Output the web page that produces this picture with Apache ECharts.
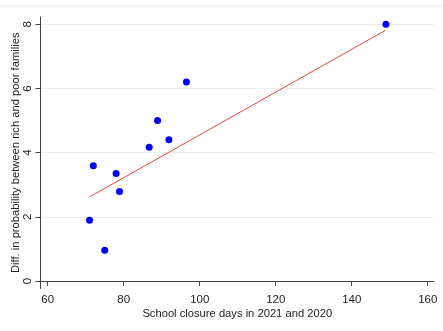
<!DOCTYPE html>
<html>
<head>
<meta charset="utf-8">
<script src="https://cdn.jsdelivr.net/npm/echarts@6/dist/echarts.min.js"></script>
<style>html,body{margin:0;padding:0;background:#fff}#c{width:443px;height:331px}</style>
</head>
<body>
<div id="c"></div>
<script>
const closureDays = [149, 96.5, 88.9, 91.9, 86.7, 72.0, 78.0, 78.9, 71.0, 75.0];
const probDiff = [8.0, 6.2, 5.0, 4.4, 4.17, 3.59, 3.35, 2.79, 1.89, 0.96];
const fitX = [71.0, 148.8];
const fitY = [2.62, 7.81];
const xTicks = [60, 80, 100, 120, 140, 160];
const yTicks = [0, 2, 4, 6, 8];

const font = 'Liberation Sans, Arial, Helvetica, sans-serif';
const chart = echarts.init(document.getElementById('c'));
chart.setOption({
  animation: false,
  backgroundColor: '#fff',
  graphic: [{
    type: 'line', shape: {x1: 0, y1: 6, x2: 443, y2: 6},
    style: {stroke: '#eaf0f0', lineWidth: 1}
  }],
  grid: {left: 40.5, right: 9, top: 17, bottom: 42.5, outerBoundsMode: 'none', containLabel: false},
  xAxis: {
    type: 'value', min: 58.1, max: 161.65,
    name: 'School closure days in 2021 and 2020',
    nameLocation: 'middle', nameGap: 19.5, nameMoveOverlap: false,
    nameTextStyle: {fontFamily: font, fontSize: 11.2, color: '#222'},
    axisLine: {show: true, lineStyle: {color: '#444', width: 1}},
    axisTick: {show: true, length: 5, customValues: xTicks, lineStyle: {color: '#444'}},
    axisLabel: {customValues: xTicks, margin: 5, fontFamily: font, fontSize: 11.5, color: '#222'},
    splitLine: {show: false}
  },
  yAxis: {
    type: 'value', min: -0.234, max: 8.229,
    name: 'Diff. in probability between rich and poor families',
    nameLocation: 'middle', nameGap: 19, nameMoveOverlap: false,
    nameTextStyle: {fontFamily: font, fontSize: 11.2, color: '#222'},
    axisLine: {show: true, lineStyle: {color: '#444', width: 1}},
    axisTick: {show: true, length: 5, customValues: yTicks, lineStyle: {color: '#444'}},
    axisLabel: {customValues: yTicks, rotate: 90, margin: 7, fontFamily: font, fontSize: 11.5, color: '#222'},
    splitLine: {show: true, lineStyle: {color: '#eaf0f0', width: 1}}
  },
  series: [{
    type: 'line',
    data: fitX.map((x, i) => [x, fitY[i]]),
    symbol: 'none',
    lineStyle: {color: '#e8473d', width: 1},
    z: 2
  }, {
    type: 'scatter',
    data: closureDays.map((x, i) => [x, probDiff[i]]),
    symbolSize: 7,
    itemStyle: {color: '#0000ff', opacity: 1},
    emphasis: {disabled: true},
    z: 3
  }]
});
</script>
</body>
</html>
